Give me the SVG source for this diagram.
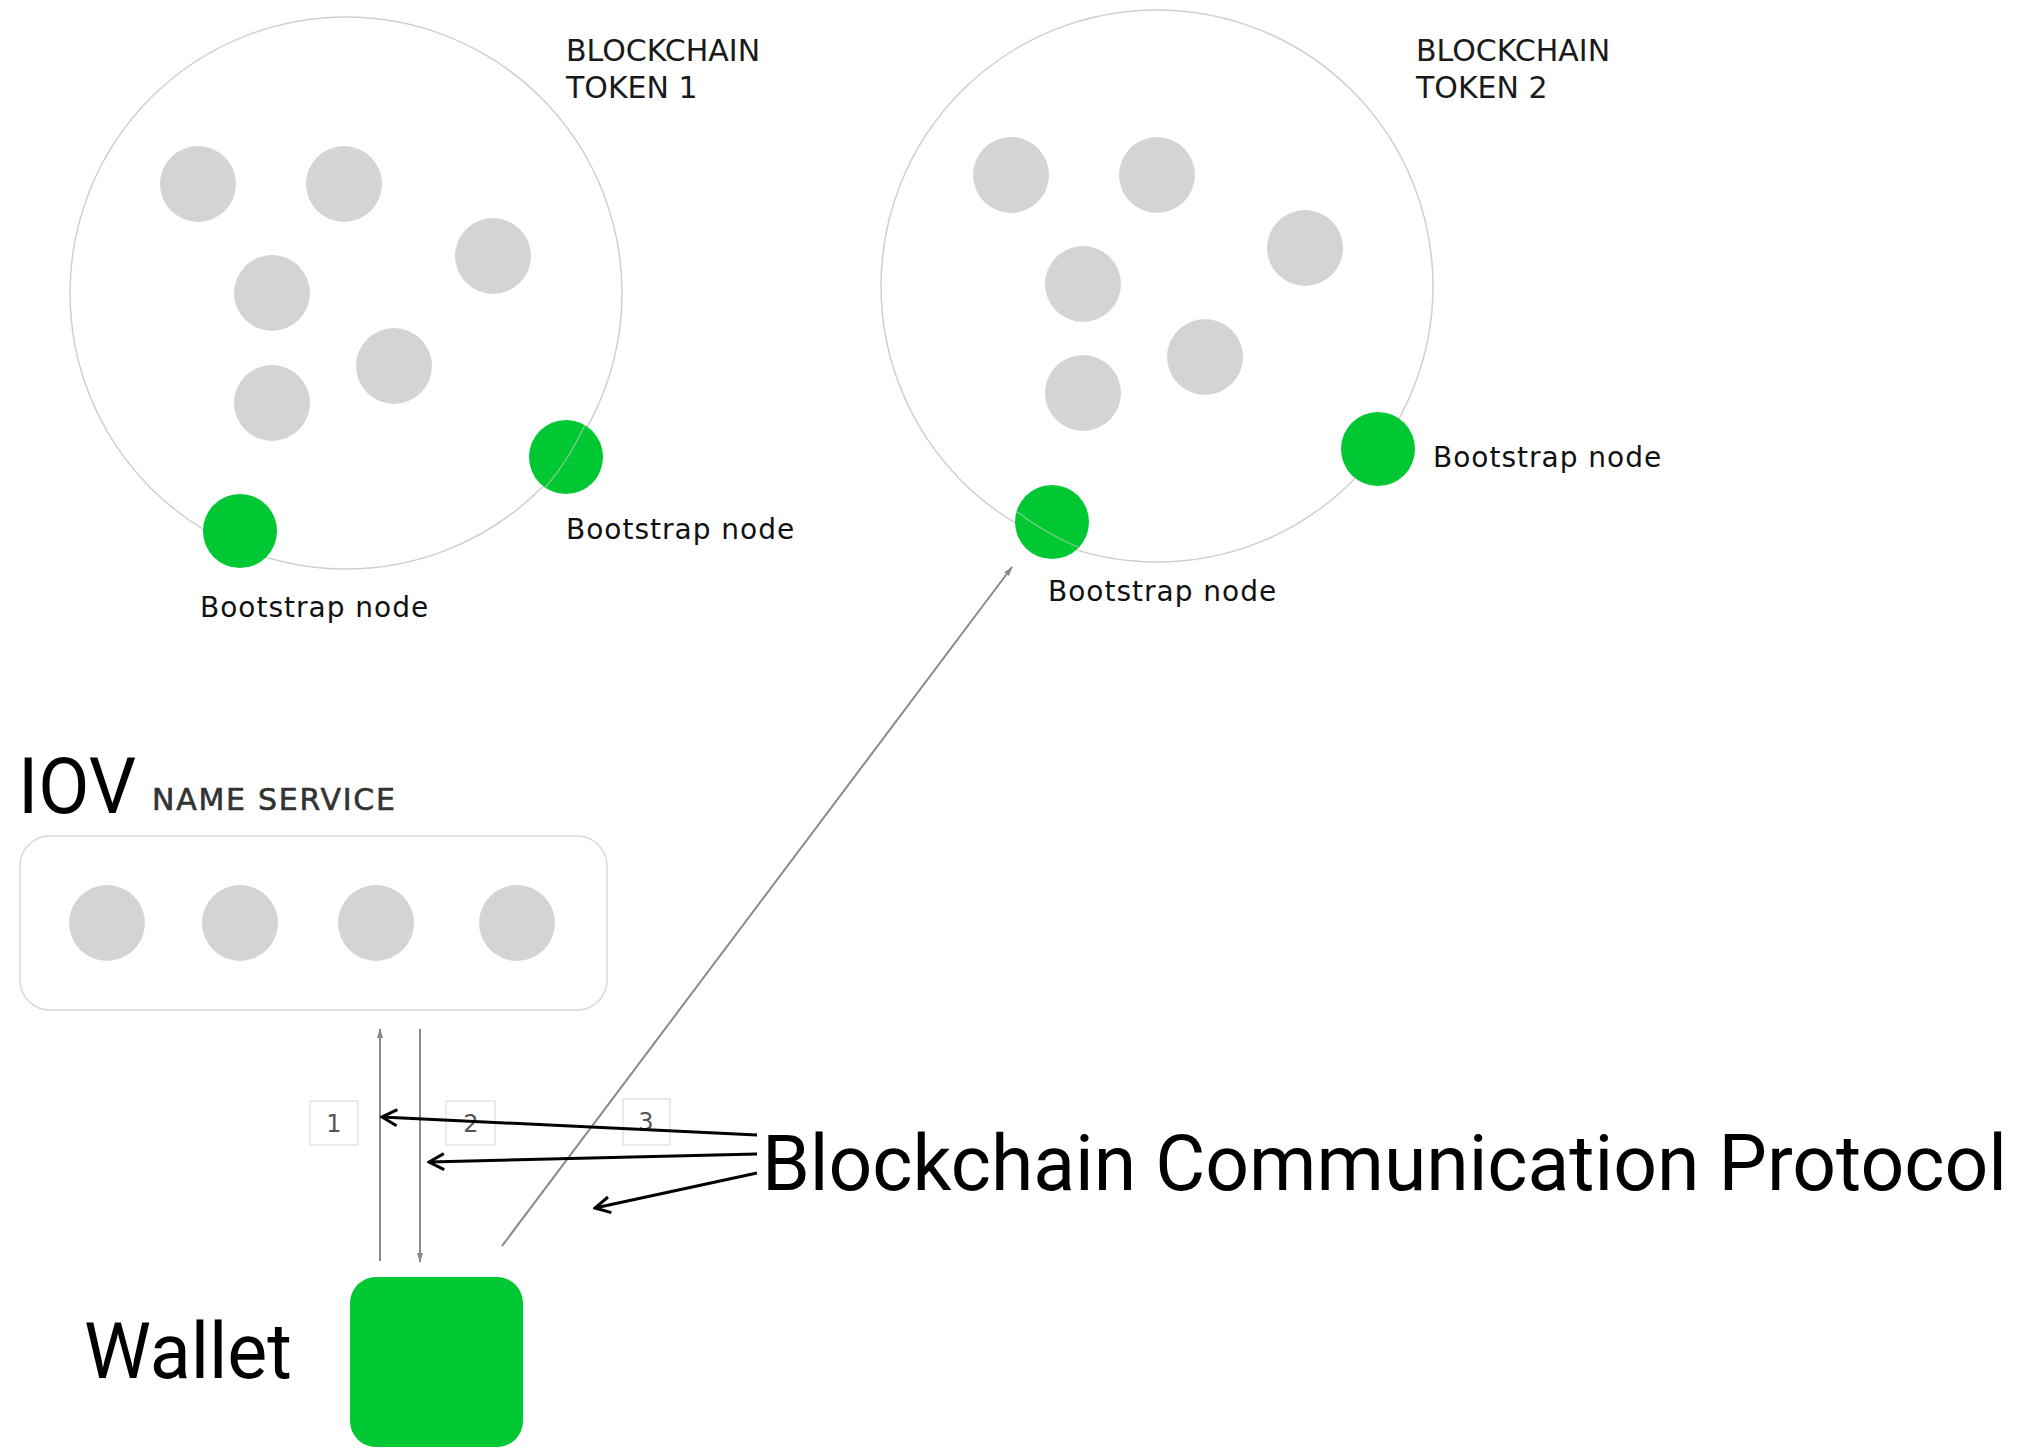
<svg xmlns="http://www.w3.org/2000/svg" width="2043" height="1448" viewBox="0 0 2043 1448">
<style>
.ring{fill:none;stroke:#cfcfcf;stroke-width:1.5}
.gray{fill:#d4d4d4}
.green{fill:#00c832}
.cap{font-family:"DejaVu Sans",sans-serif;font-size:30px;fill:#1a1a1a}
.lbl{font-family:"DejaVu Sans",sans-serif;font-size:28px;fill:#111;letter-spacing:1px}
.big{font-family:Roboto,"Liberation Sans",sans-serif;font-size:78px;fill:#000}
.num{font-family:"DejaVu Sans",sans-serif;font-size:24px;fill:#555;text-anchor:middle}
.nbox{fill:#fff;stroke:#e2e2e2;stroke-width:1.5}
.flow{stroke:#8a8a8a;stroke-width:2;fill:none}
.ann{stroke:#000;stroke-width:3;fill:none}
</style>
<defs>
<marker id="ga" viewBox="0 0 10 10" refX="9" refY="5" markerWidth="10" markerHeight="10" orient="auto" markerUnits="userSpaceOnUse">
<path d="M0,2 L10,5 L0,8 z" fill="#8a8a8a"/>
</marker>
<marker id="ba" viewBox="0 0 20 20" refX="18" refY="10" markerWidth="20" markerHeight="20" orient="auto" markerUnits="userSpaceOnUse">
<path d="M3,2 L18,10 L3,18" fill="none" stroke="#000" stroke-width="3"/>
</marker>
</defs>
<rect width="2043" height="1448" fill="#fff"/>

<g id="blockchain1">
<circle class="ring" cx="346" cy="293" r="276"/>
<circle class="gray" cx="198" cy="184" r="38"/>
<circle class="gray" cx="344" cy="184" r="38"/>
<circle class="gray" cx="493" cy="256" r="38"/>
<circle class="gray" cx="272" cy="293" r="38"/>
<circle class="gray" cx="394" cy="366" r="38"/>
<circle class="gray" cx="272" cy="403" r="38"/>
<text class="cap" x="566" y="61">BLOCKCHAIN</text>
<text class="cap" x="566" y="98">TOKEN 1</text>
</g>
<g id="bootstrap1a">
<circle class="green" cx="566" cy="457" r="37"/>
<path d="M585,425 A276,276 0 0 1 545,488" fill="none" stroke="#7fcf8f" stroke-width="1.2"/>
<text class="lbl" x="566" y="539">Bootstrap node</text>
</g>
<g id="bootstrap1b">
<circle class="green" cx="240" cy="531" r="37"/>
<text class="lbl" x="200" y="617">Bootstrap node</text>
</g>

<g id="blockchain2">
<circle class="ring" cx="1157" cy="286" r="276"/>
<circle class="gray" cx="1011" cy="175" r="38"/>
<circle class="gray" cx="1157" cy="175" r="38"/>
<circle class="gray" cx="1305" cy="248" r="38"/>
<circle class="gray" cx="1083" cy="284" r="38"/>
<circle class="gray" cx="1205" cy="357" r="38"/>
<circle class="gray" cx="1083" cy="393" r="38"/>
<text class="cap" x="1416" y="61">BLOCKCHAIN</text>
<text class="cap" x="1416" y="98">TOKEN 2</text>
</g>
<g id="bootstrap2a">
<circle class="green" cx="1378" cy="449" r="37"/>
<text class="lbl" x="1433" y="467">Bootstrap node</text>
</g>
<g id="bootstrap2b">
<circle class="green" cx="1052" cy="522" r="37"/>
<path d="M1016,511 A276,276 0 0 0 1080,548" fill="none" stroke="#7fcf8f" stroke-width="1.2"/>
<text class="lbl" x="1048" y="601">Bootstrap node</text>
</g>

<g id="nameservice">
<text class="big" x="18" y="813" textLength="118" lengthAdjust="spacingAndGlyphs">IOV</text>
<text class="cap" x="152" y="810" style="font-size:30px;fill:#333;stroke:#333;stroke-width:0.6" textLength="243">NAME SERVICE</text>
<rect x="20" y="836" width="587" height="174" rx="30" fill="#fff" stroke="#d8d8d8" stroke-width="1.5"/>
<circle class="gray" cx="107" cy="923" r="38"/>
<circle class="gray" cx="240" cy="923" r="38"/>
<circle class="gray" cx="376" cy="923" r="38"/>
<circle class="gray" cx="517" cy="923" r="38"/>
</g>

<g id="wallet">
<rect class="green" x="350" y="1277" width="173" height="170" rx="26"/>
<text class="big" x="84" y="1378" textLength="208" lengthAdjust="spacingAndGlyphs">Wallet</text>
</g>

<g id="steps">
<rect class="nbox" x="310" y="1101" width="48" height="44"/>
<text class="num" x="334" y="1132">1</text>
<rect class="nbox" x="446" y="1101" width="49" height="44"/>
<text class="num" x="471" y="1132">2</text>
<rect class="nbox" x="623" y="1099" width="47" height="46"/>
<text class="num" x="646" y="1130">3</text>
</g>

<g id="connectors">
<line class="flow" x1="380" y1="1261" x2="380" y2="1029" marker-end="url(#ga)"/>
<line class="flow" x1="420" y1="1029" x2="420" y2="1262" marker-end="url(#ga)"/>
<line class="flow" x1="502" y1="1246" x2="1012" y2="567" marker-end="url(#ga)"/>
</g>

<g id="annotation">
<line class="ann" x1="757" y1="1135" x2="382" y2="1117" marker-end="url(#ba)"/>
<line class="ann" x1="757" y1="1154" x2="429" y2="1162" marker-end="url(#ba)"/>
<line class="ann" x1="757" y1="1173" x2="595" y2="1208" marker-end="url(#ba)"/>
<text class="big" x="762" y="1190" textLength="1245" lengthAdjust="spacingAndGlyphs">Blockchain Communication Protocol</text>
</g>
</svg>
